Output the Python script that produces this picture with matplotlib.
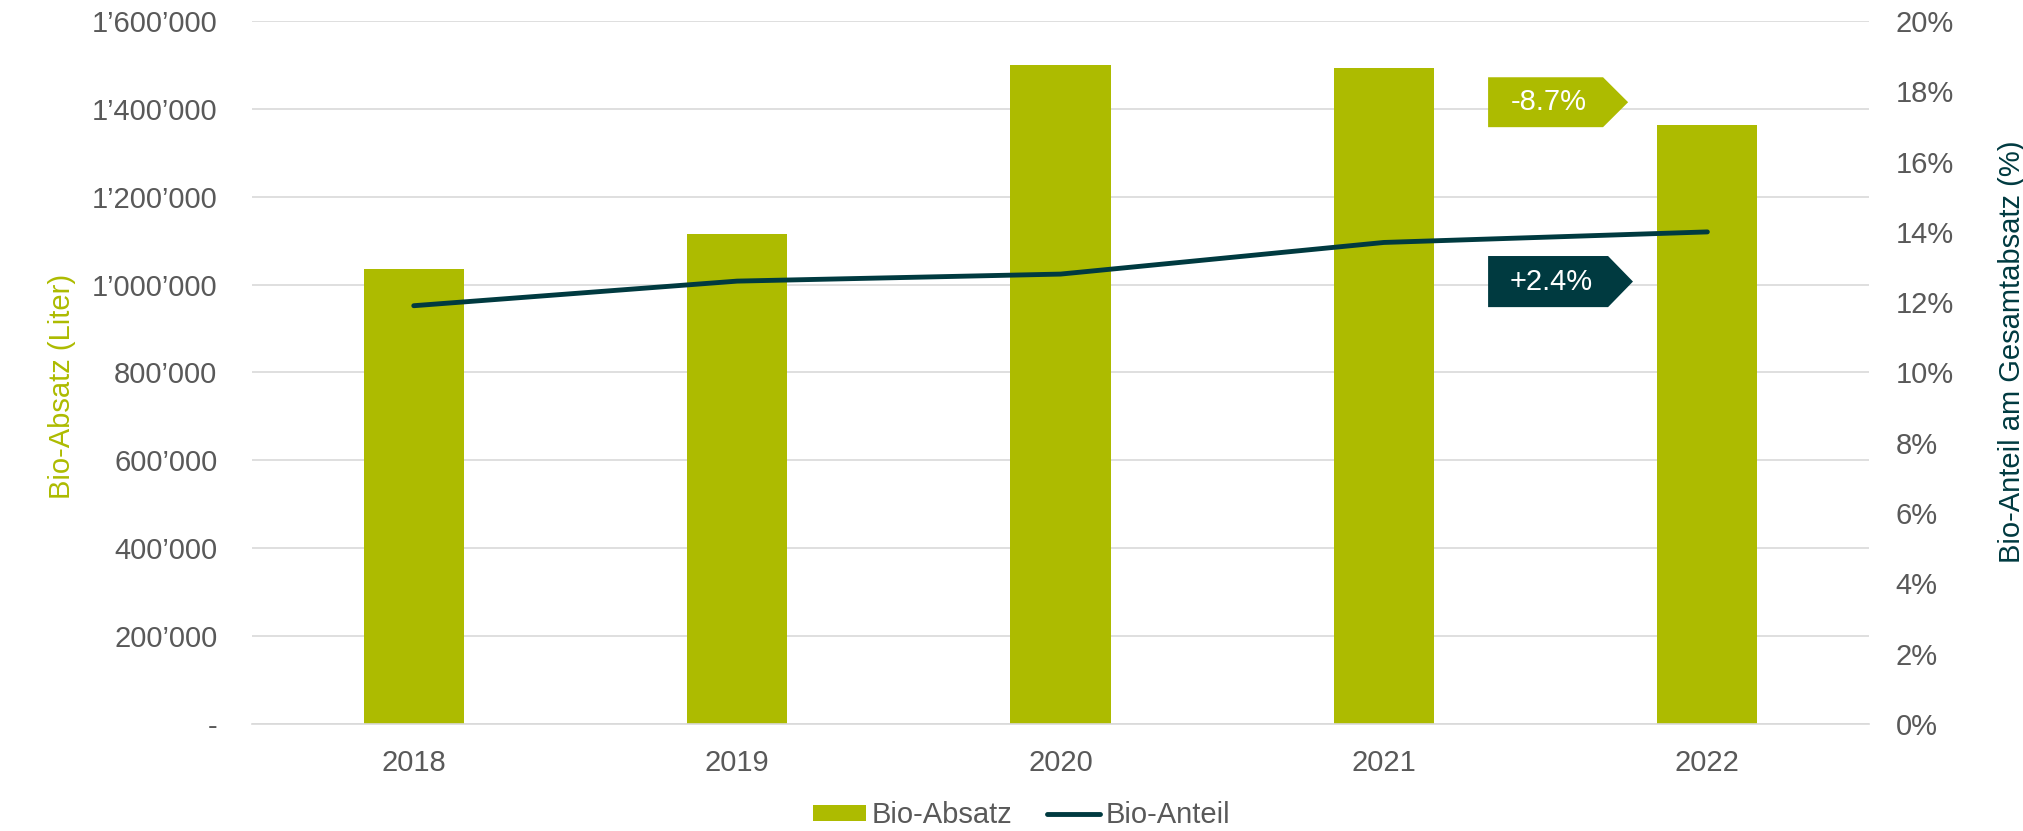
import matplotlib
matplotlib.use('Agg')
import matplotlib.pyplot as plt
from matplotlib.patches import Polygon
from matplotlib.ticker import FuncFormatter, MultipleLocator


years = ['2018', '2019', '2020', '2021', '2022']
bio_absatz = [1035000, 1116000, 1500000, 1493000, 1363000]   # Liter
bio_anteil = [11.9, 12.6, 12.8, 13.7, 14.0]                  # %
tag_labels = ['-8.7%', '+2.4%']

GREEN = '#ADBB00'
TEAL = '#003A40'
GREY = '#595959'
GRID = '#D9D9D9'

plt.rcParams['font.family'] = ['Liberation Sans', 'DejaVu Sans']


def thousands(v, pos):
    if v == 0:
        return '-'
    return '{:,.0f}'.format(v).replace(',', '\u2019')


def draw_tag(ax, x0, x1, x2, yb, yt, color, text):
    # pentagon "arrow" tag in axes fraction coords
    ym = (yb + yt) / 2
    poly = Polygon([(x0, yb), (x1, yb), (x2, ym), (x1, yt), (x0, yt)],
                   closed=True, transform=ax.transAxes, facecolor=color,
                   edgecolor='none', zorder=5, clip_on=False)
    ax.add_patch(poly)
    ax.text((x0 + x1) / 2 + 0.002, ym, text, transform=ax.transAxes, ha='center',
            va='center', color='white', fontsize=21, zorder=6)


fig = plt.figure(figsize=(20.23, 8.31), dpi=100)
ax = fig.add_axes([0.1246, 0.1288, 0.7993, 0.8459])
ax2 = ax.twinx()

x = range(len(years))
bars = ax.bar(x, bio_absatz, width=0.31, color=GREEN, zorder=2, label='Bio-Absatz')
line, = ax2.plot(x, bio_anteil, color=TEAL, lw=3.5, solid_capstyle='round',
                 solid_joinstyle='round', zorder=3, label='Bio-Anteil')

ax.set_xlim(-0.5, len(years) - 0.5)
ax.set_ylim(0, 1600000)
ax2.set_ylim(0, 20)
ax.yaxis.set_major_locator(MultipleLocator(200000))
ax2.yaxis.set_major_locator(MultipleLocator(2))
ax.yaxis.set_major_formatter(FuncFormatter(thousands))
ax2.yaxis.set_major_formatter(FuncFormatter(lambda v, p: '{:.0f}%'.format(v)))
ax.set_xticks(list(x))
ax.set_xticklabels(years)

ax.grid(axis='y', color=GRID, lw=1.2, zorder=0)
ax.set_axisbelow(True)
for a in (ax, ax2):
    for s in ['top', 'left', 'right', 'bottom']:
        a.spines[s].set_visible(False)
ax.spines['bottom'].set_visible(True)
ax.spines['bottom'].set_color(GRID)
ax.spines['bottom'].set_linewidth(1.2)

ax.tick_params(axis='y', length=0, pad=25, labelsize=21, labelcolor=GREY)
ax.tick_params(axis='x', length=0, pad=18, labelsize=21, labelcolor=GREY)
ax2.tick_params(axis='y', length=0, pad=19, labelsize=21, labelcolor=GREY)

ax.set_ylabel('Bio-Absatz (Liter)', color=GREEN, fontsize=21)
ax.yaxis.set_label_coords(-0.109, 0.48)
ax2.set_ylabel('Bio-Anteil am Gesamtabsatz (%)', color=TEAL, fontsize=21,
               rotation=90)
ax2.yaxis.set_label_coords(1.08, 0.53)

draw_tag(ax2, 0.7644, 0.8355, 0.851, 0.849, 0.920, GREEN, tag_labels[0])
draw_tag(ax2, 0.7644, 0.8386, 0.854, 0.593, 0.6657, TEAL, tag_labels[1])

fig.legend([bars, line], ['Bio-Absatz', 'Bio-Anteil'], loc='center',
           bbox_to_anchor=(0.505, 0.019), ncol=2, frameon=False, fontsize=21,
           labelcolor=GREY, handlelength=1.8, handleheight=0.5,
           handletextpad=0.2, columnspacing=1.2)

fig.savefig('out.png', dpi=100)
